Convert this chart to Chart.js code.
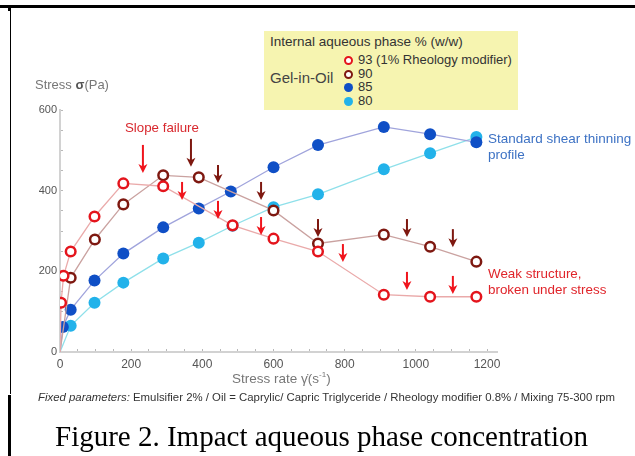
<!DOCTYPE html>
<html>
<head>
<meta charset="utf-8">
<script src="https://cdn.jsdelivr.net/npm/chart.js@4"></script>
<style>
    html, body { margin: 0; padding: 0; background: #fff; }
    #wrap { position: relative; width: 635px; height: 456px; overflow: hidden; font-family: "Liberation Sans", Arial, sans-serif; }
    #chart { position: absolute; left: 0; top: 0; }
    .txt { position: absolute; white-space: nowrap; line-height: 1; }
    .rule { position: absolute; background: #000; }
    #legendBox { position: absolute; left: 264px; top: 31px; width: 254px; height: 79px; background: #f6f4b0; }
    .legRow { position: absolute; left: 80px; font-size: 13px; color: #333; line-height: 13px; }
    .dot { display: inline-block; width: 9px; height: 9px; border-radius: 50%; box-sizing: border-box; margin-right: 5px; vertical-align: -1px; }
</style>
</head>
<body>
<div id="wrap">
    <canvas id="chart" width="635" height="456"></canvas>

    <!-- page frame -->
    <div class="rule" style="left:0; top:5px; width:635px; height:2.5px;"></div>
    <div class="rule" style="left:10px; top:7px; width:1.2px; height:387px;"></div>
    <div class="rule" style="left:8px; top:7px; width:3px; height:4px;"></div>
    <div class="rule" style="left:8px; top:395px; width:3px; height:61px;"></div>

    <!-- legend -->
    <div id="legendBox">
        <div class="txt" style="left:6px; top:4px; font-size:13.5px; color:#333;">Internal aqueous phase % (w/w)</div>
        <div class="txt" style="left:6px; top:39px; font-size:15px; color:#444;">Gel-in-Oil</div>
        <div id="legendRows"></div>
    </div>

    <!-- axis titles -->
    <div class="txt" style="left:35px; top:78px; font-size:13px; color:#777;">Stress <b style="color:#555;">σ</b>(Pa)</div>
    <div class="txt" style="left:232px; top:371px; font-size:13.5px; color:#777;">Stress rate γ̇(s<sup style="font-size:8px;">-1</sup>)</div>

    <!-- annotations -->
    <div class="txt" style="left:125px; top:121px; font-size:13.3px; color:#d8282e;">Slope failure</div>
    <div class="txt" style="left:488px; top:131px; font-size:13.5px; color:#3d72c4; line-height:16px;">Standard shear thinning<br>profile</div>
    <div class="txt" style="left:488px; top:266px; font-size:13.4px; color:#e0242a; line-height:16px;">Weak structure,<br>broken under stress</div>

    <!-- captions -->
    <div class="txt" style="left:38px; top:392px; font-size:11.4px; color:#333;"><i>Fixed parameters:</i> Emulsifier 2% / Oil = Caprylic/ Capric Triglyceride / Rheology modifier 0.8% / Mixing 75-300 rpm</div>
    <div class="txt" style="left:55px; top:422px; font-size:29px; color:#000; font-family:'Liberation Serif', 'Times New Roman', serif;">Figure 2. Impact aqueous phase concentration</div>
</div>

<script>
// Series names (internal aqueous phase %)
const seriesLabels = ['93 (1% Rheology modifier)', '90', '85', '80'];

// Stress rate (s-1) and stress (Pa)
const rate93 = [0, 3, 10, 30, 97, 178, 290, 485, 600, 725, 910, 1040, 1170];
const stress93 = [0, 122, 189, 249, 336, 418, 411, 314, 281, 249, 142, 137, 137];

const rate90 = [0, 30, 98, 178, 290, 390, 600, 725, 910, 1040, 1170];
const stress90 = [0, 184, 279, 366, 438, 433, 351, 269, 291, 261, 224];

const rate85 = [0, 8, 30, 97, 178, 290, 390, 480, 600, 725, 910, 1040, 1170];
const stress85 = [0, 62, 105, 177, 244, 309, 356, 398, 458, 513, 558, 540, 520];

const rate80 = [0, 30, 97, 178, 290, 390, 485, 600, 725, 910, 1040, 1170];
const stress80 = [0, 65, 122, 172, 232, 271, 313, 359, 391, 453, 493, 533];

// Arrow tips (rate, stress) marking structure breakdown
const arrowRate93 = [233, 343, 444, 565, 795, 975, 1104];
const arrowStress93 = [444, 377, 330, 290, 223, 154, 144];
const arrowRate90 = [368, 444, 565, 725, 975, 1104];
const arrowStress90 = [459, 419, 377, 285, 285, 260];

// Axis ticks
const xLabelTicks = [0, 200, 400, 600, 800, 1000, 1200];
const yLabelTicks = [0, 200, 400, 600];

const COLORS = {
    red: '#e4141c',
    darkRed: '#7e1810',
    blue: '#0f4fc6',
    lightBlue: '#22b2ea'
};

function toPoints(xs, ys) {
    return xs.map((x, i) => ({ x: x, y: ys[i] }));
}

// first point (origin) only carries the line, no marker
function radii(n, r) {
    return Array.from({ length: n }, (_, i) => (i === 0 ? 0 : r));
}

function openSeries(label, xs, ys, color, lineColor) {
    return {
        label: label,
        data: toPoints(xs, ys),
        showLine: true,
        borderColor: lineColor,
        borderWidth: 1.3,
        pointBorderColor: color,
        pointBackgroundColor: '#ffffff',
        pointBorderWidth: 2.5,
        pointRadius: radii(xs.length, 4.8),
        tension: 0
    };
}

function filledSeries(label, xs, ys, color, lineColor) {
    return {
        label: label,
        data: toPoints(xs, ys),
        showLine: true,
        borderColor: lineColor,
        borderWidth: 1.3,
        pointBorderColor: color,
        pointBackgroundColor: color,
        pointBorderWidth: 0,
        pointRadius: radii(xs.length, 6),
        tension: 0
    };
}

// Legend rows
const legendRows = document.getElementById('legendRows');
const legendStyle = [
    { color: COLORS.red, open: true },
    { color: COLORS.darkRed, open: true },
    { color: COLORS.blue, open: false },
    { color: COLORS.lightBlue, open: false }
];
seriesLabels.forEach((label, i) => {
    const row = document.createElement('div');
    row.className = 'legRow';
    row.style.top = (22 + i * 13.5) + 'px';
    const s = legendStyle[i];
    const dotStyle = s.open
        ? 'border:2.2px solid ' + s.color + '; background:#fff;'
        : 'background:' + s.color + ';';
    row.innerHTML = '<span class="dot" style="' + dotStyle + '"></span>' + label;
    legendRows.appendChild(row);
});

// Draw the breakdown arrows through the chart scales
const arrowPlugin = {
    id: 'arrows',
    afterDatasetsDraw(chart) {
        const ctx = chart.ctx;
        const xs = chart.scales.x;
        const ys = chart.scales.y;

        const draw = (rates, stresses, color) => {
            rates.forEach((r, i) => {
                const px = xs.getPixelForValue(r);
                const py = ys.getPixelForValue(stresses[i]);
                const len = i === 0 ? 28 : 18;
                ctx.save();
                ctx.strokeStyle = color;
                ctx.fillStyle = color;
                ctx.lineWidth = 2;
                ctx.beginPath();
                ctx.moveTo(px, py - len);
                ctx.lineTo(px, py - 6);
                ctx.stroke();
                ctx.beginPath();
                ctx.moveTo(px, py);
                ctx.lineTo(px - 4.5, py - 9);
                ctx.lineTo(px, py - 6.5);
                ctx.lineTo(px + 4.5, py - 9);
                ctx.closePath();
                ctx.fill();
                ctx.restore();
            });
        };

        draw(arrowRate93, arrowStress93, '#f0141c');
        draw(arrowRate90, arrowStress90, COLORS.darkRed);
    }
};

new Chart(document.getElementById('chart'), {
    type: 'scatter',
    data: {
        datasets: [
            openSeries(seriesLabels[0], rate93, stress93, COLORS.red, '#eaaaaa'),
            openSeries(seriesLabels[1], rate90, stress90, COLORS.darkRed, '#caa2a0'),
            filledSeries(seriesLabels[2], rate85, stress85, COLORS.blue, '#a0a4dc'),
            filledSeries(seriesLabels[3], rate80, stress80, COLORS.lightBlue, '#8fe0ea')
        ]
    },
    options: {
        responsive: false,
        animation: false,
        layout: { padding: { left: 0, top: 110, right: 138, bottom: 64 } },
        plugins: {
            legend: { display: false },
            tooltip: { enabled: false }
        },
        scales: {
            x: {
                type: 'linear',
                min: 0,
                max: 1228,
                afterFit: (scale) => { scale.height = 40; },
                border: { color: '#d2d2d2', width: 2 },
                grid: { drawOnChartArea: false, color: '#b8b8b8', tickLength: -3 },
                ticks: {
                    stepSize: 50,
                    includeBounds: false,
                    autoSkip: false,
                    maxRotation: 0,
                    padding: 8,
                    color: '#555',
                    font: { family: 'Liberation Sans', size: 12 },
                    callback: (v) => (xLabelTicks.includes(v) ? v : '')
                }
            },
            y: {
                min: 0,
                max: 600,
                afterFit: (scale) => { scale.width = 60; },
                border: { color: '#d2d2d2', width: 2 },
                grid: { drawOnChartArea: false, color: '#b8b8b8', tickLength: -3 },
                ticks: {
                    stepSize: 50,
                    autoSkip: false,
                    padding: 6,
                    color: '#555',
                    font: { family: 'Liberation Sans', size: 11 },
                    callback: (v) => (yLabelTicks.includes(v) ? v : '')
                }
            }
        }
    },
    plugins: [arrowPlugin]
});
</script>
</body>
</html>
